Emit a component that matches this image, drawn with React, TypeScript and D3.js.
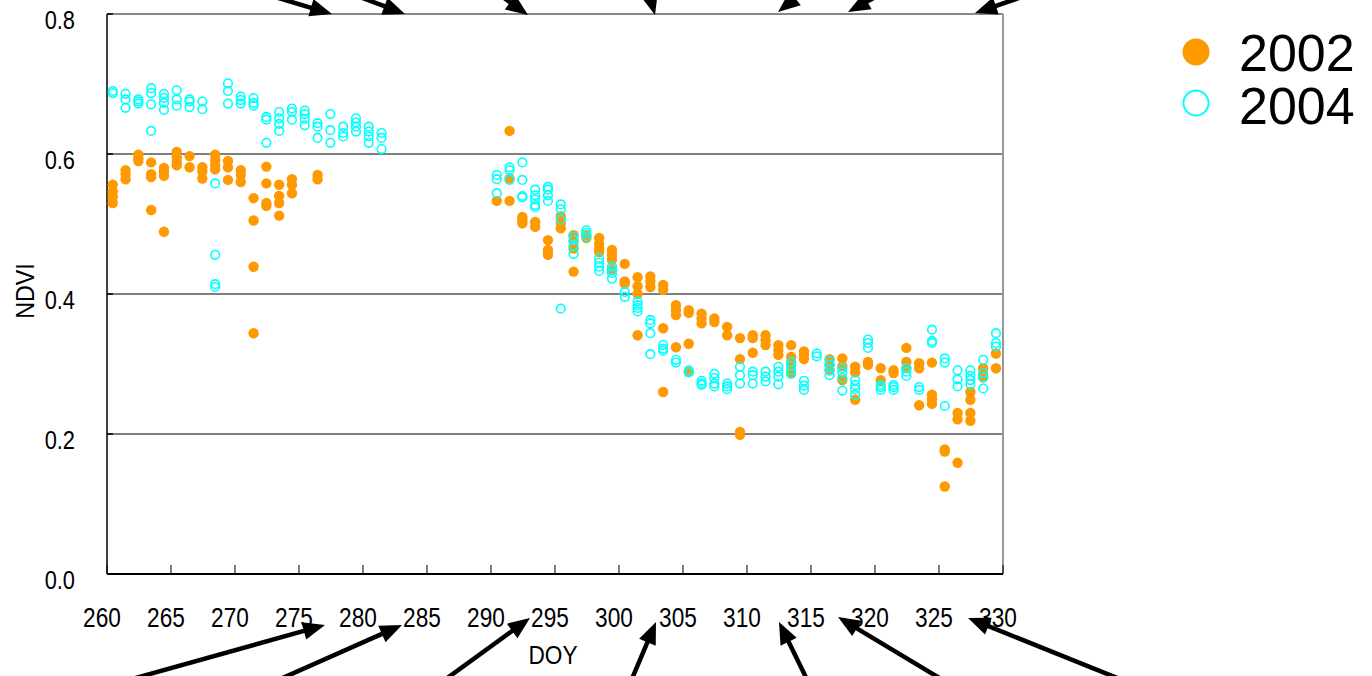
import React from "react";
import * as d3 from "d3";

const xTicks = [260, 265, 270, 275, 280, 285, 290, 295, 300, 305, 310, 315, 320, 325, 330];
const yTicks = [0.0, 0.2, 0.4, 0.6, 0.8];
const yTickLabels = ["0.0", "0.2", "0.4", "0.6", "0.8"];
const seriesNames = ["2002", "2004"];

const days2002 = [
  260.45, 261.45, 262.45, 263.45, 264.45, 265.45, 266.45, 267.45, 268.45, 269.45,
  270.45, 271.45, 272.45, 273.45, 274.45, 276.45,
  290.45, 291.45, 292.45, 293.45, 294.45, 295.45, 296.45, 297.45, 298.45, 299.45,
  300.45, 301.45, 302.45, 303.45, 304.45, 305.45, 306.45, 307.45, 308.45, 309.45,
  310.45, 311.45, 312.45, 313.45, 314.45, 316.45, 317.45, 318.45, 319.45,
  320.45, 321.45, 322.45, 323.45, 324.45, 325.45, 326.45, 327.45, 328.45, 329.45,
];
const ndvi2002 = [
  [0.556, 0.546, 0.539, 0.53], [0.577, 0.571, 0.564], [0.599, 0.594, 0.59],
  [0.588, 0.571, 0.567, 0.52], [0.58, 0.575, 0.569, 0.489], [0.603, 0.595, 0.589, 0.584],
  [0.597, 0.581], [0.581, 0.575, 0.565], [0.599, 0.591, 0.584, 0.578], [0.59, 0.581, 0.563],
  [0.577, 0.57, 0.56], [0.537, 0.505, 0.439, 0.344], [0.582, 0.558, 0.53, 0.526],
  [0.556, 0.54, 0.53, 0.512], [0.564, 0.556, 0.544], [0.57, 0.564],
  [0.533], [0.633, 0.565, 0.533], [0.51, 0.506, 0.501], [0.503, 0.496], [0.477, 0.463, 0.456],
  [0.511, 0.501, 0.494], [0.484, 0.475, 0.465, 0.432], [0.484, 0.48], [0.48, 0.472, 0.465, 0.46],
  [0.463, 0.456, 0.449, 0.435],
  [0.443, 0.418, 0.415], [0.424, 0.411, 0.4, 0.341], [0.425, 0.418, 0.41], [0.413, 0.406, 0.351, 0.26],
  [0.384, 0.377, 0.37, 0.324], [0.377, 0.373, 0.329, 0.289], [0.372, 0.365, 0.358], [0.365, 0.36],
  [0.353, 0.341], [0.337, 0.307, 0.203, 0.199],
  [0.341, 0.337, 0.316], [0.341, 0.334, 0.327], [0.327, 0.32, 0.313], [0.327, 0.31, 0.299, 0.287],
  [0.318, 0.313, 0.307], [0.307, 0.299, 0.291], [0.308, 0.297, 0.277], [0.296, 0.288, 0.249],
  [0.303, 0.299],
  [0.294, 0.277], [0.291, 0.287], [0.323, 0.303, 0.294], [0.301, 0.294, 0.241],
  [0.302, 0.256, 0.25, 0.243], [0.178, 0.175, 0.125], [0.23, 0.221, 0.159],
  [0.26, 0.249, 0.23, 0.219], [0.294, 0.284, 0.281], [0.315, 0.294],
];

const days2004 = [
  260.45, 261.45, 262.45, 263.45, 264.45, 265.45, 266.45, 267.45, 268.45, 269.45,
  270.45, 271.45, 272.45, 273.45, 274.45, 275.45, 276.45, 277.45, 278.45, 279.45,
  280.45, 281.45,
  290.45, 291.45, 292.45, 293.45, 294.45, 295.45, 296.45, 297.45, 298.45, 299.45,
  300.45, 301.45, 302.45, 303.45, 304.45, 305.45, 306.45, 307.45, 308.45, 309.45,
  310.45, 311.45, 312.45, 313.45, 314.45, 315.45, 316.45, 317.45, 318.45, 319.45,
  320.45, 321.45, 322.45, 323.45, 324.45, 325.45, 326.45, 327.45, 328.45, 329.45,
];
const ndvi2004 = [
  [0.69, 0.687], [0.686, 0.678, 0.666], [0.678, 0.675, 0.672], [0.694, 0.687, 0.671, 0.633],
  [0.686, 0.68, 0.673, 0.663], [0.691, 0.678, 0.669], [0.678, 0.675, 0.667], [0.675, 0.664],
  [0.558, 0.456, 0.414, 0.41], [0.701, 0.69, 0.672],
  [0.682, 0.677, 0.672], [0.68, 0.673, 0.669], [0.653, 0.649, 0.616], [0.66, 0.651, 0.643, 0.633],
  [0.665, 0.66, 0.649], [0.662, 0.657, 0.65, 0.641], [0.644, 0.639, 0.623], [0.657, 0.634, 0.616],
  [0.639, 0.63, 0.625], [0.651, 0.645, 0.639, 0.632],
  [0.639, 0.632, 0.625, 0.616], [0.63, 0.623, 0.607],
  [0.57, 0.564, 0.544], [0.581, 0.577, 0.563], [0.588, 0.563, 0.54, 0.538],
  [0.549, 0.541, 0.535, 0.527, 0.524], [0.553, 0.549, 0.541, 0.533], [0.528, 0.521, 0.506, 0.379],
  [0.482, 0.477, 0.468, 0.457], [0.491, 0.487, 0.482], [0.451, 0.445, 0.439, 0.433],
  [0.439, 0.434, 0.43, 0.422],
  [0.403, 0.396], [0.389, 0.384, 0.38, 0.375], [0.363, 0.358, 0.344, 0.314], [0.327, 0.322, 0.319],
  [0.306, 0.302], [0.291, 0.288], [0.276, 0.272, 0.27], [0.286, 0.28, 0.272, 0.268],
  [0.272, 0.268, 0.264], [0.296, 0.284, 0.272],
  [0.289, 0.284, 0.272], [0.289, 0.282, 0.275], [0.296, 0.289, 0.282, 0.271], [0.303, 0.297, 0.291, 0.286],
  [0.276, 0.269, 0.263], [0.315, 0.311], [0.305, 0.299, 0.291, 0.284], [0.294, 0.288, 0.28, 0.262],
  [0.277, 0.27, 0.264, 0.256], [0.335, 0.33, 0.323],
  [0.27, 0.267, 0.263], [0.27, 0.267, 0.263], [0.294, 0.289, 0.283], [0.267, 0.263],
  [0.349, 0.333, 0.33], [0.308, 0.302, 0.24], [0.291, 0.278, 0.268], [0.291, 0.283, 0.277, 0.271],
  [0.306, 0.287, 0.281, 0.265], [0.344, 0.33, 0.325],
];

// annotation arrows: [tailX, tailY, tipX, tipY]
const topArrows = [
  [151, -40, 332, 14], [262, -40, 405, 14], [451, -40, 528, 15], [640, -40, 655, 15],
  [843, -40, 778, 12], [943, -40, 848, 12], [1130, -40, 975, 13],
];
const bottomArrows = [
  [57, 700, 325, 625], [233, 700, 402, 625], [417, 700, 530, 618], [623, 700, 656, 622],
  [817, 700, 779, 622], [976, 700, 838, 617], [1172, 700, 968, 618],
];

const flatten = (days: number[], vals: number[][]) =>
  days.flatMap((d, i) => vals[i].map((v) => ({ doy: d, ndvi: v })));

const FONT = "'Liberation Sans', Arial, Helvetica, sans-serif";

function Arrow({ a }: { a: number[] }) {
  const [x1, y1, x2, y2] = a;
  const ang = Math.atan2(y2 - y1, x2 - x1);
  const len = 22;
  const half = 9;
  const bx = x2 - len * Math.cos(ang);
  const by = y2 - len * Math.sin(ang);
  const px = -Math.sin(ang) * half;
  const py = Math.cos(ang) * half;
  return (
    <g>
      <line x1={x1} y1={y1} x2={bx + 2 * Math.cos(ang)} y2={by + 2 * Math.sin(ang)} stroke="#000" strokeWidth={4.5} />
      <polygon points={`${x2},${y2} ${bx + px},${by + py} ${bx - px},${by - py}`} fill="#000" />
    </g>
  );
}

export default function App() {
  const W = 1372, H = 676;
  const left = 107, right = 1003, top = 14, bottom = 574;
  const x = d3.scaleLinear().domain([260, 330]).range([left, right]);
  const y = d3.scaleLinear().domain([0, 0.8]).range([bottom, top]);
  const pts2002 = flatten(days2002, ndvi2002);
  const pts2004 = flatten(days2004, ndvi2004);

  return (
    <svg width={W} height={H} style={{ position: "absolute", left: 0, top: 0, background: "#fff" }} fontFamily={FONT}>
      <rect x={0} y={0} width={W} height={H} fill="#fff" />
      {/* grid lines */}
      {yTicks.filter((t) => t > 0 && t < 0.8).map((t) => (
        <line key={t} x1={left} x2={right} y1={y(t)} y2={y(t)} stroke="#000" strokeWidth={1} />
      ))}
      {/* frame */}
      <line x1={left} x2={right} y1={top} y2={top} stroke="#888" strokeWidth={2} />
      <line x1={right} x2={right} y1={top} y2={bottom} stroke="#999" strokeWidth={2} />
      <line x1={left} x2={left} y1={top} y2={bottom} stroke="#000" strokeWidth={1.5} />
      <line x1={left} x2={right} y1={bottom} y2={bottom} stroke="#000" strokeWidth={2} />
      {/* y ticks */}
      {yTicks.map((t, i) => (
        <g key={t}>
          <line x1={left} x2={left + 6} y1={y(t)} y2={y(t)} stroke="#000" strokeWidth={1.5} />
          <text transform={`translate(75,${y(t) + 15}) scale(0.84,1)`} fontSize={26} textAnchor="end" fill="#000">{yTickLabels[i]}</text>
        </g>
      ))}
      {/* x ticks */}
      {xTicks.map((t) => (
        <g key={t}>
          <line x1={x(t)} x2={x(t)} y1={bottom} y2={bottom - 9} stroke="#000" strokeWidth={1} />
          <text transform={`translate(${x(t) - 5},627) scale(0.84,1)`} fontSize={27} textAnchor="middle" fill="#000">{t}</text>
        </g>
      ))}
      <text transform="translate(553,664) scale(0.87,1)" fontSize={26} textAnchor="middle" fill="#000">DOY</text>
      <text transform="translate(34,291) rotate(-90) scale(0.93,1)" fontSize={25} textAnchor="middle" fill="#000">NDVI</text>
      {/* series */}
      <g>
        {pts2002.map((p, i) => (
          <circle key={"a" + i} cx={x(p.doy)} cy={y(p.ndvi)} r={5.2} fill="#FF9900" />
        ))}
      </g>
      <g>
        {pts2004.map((p, i) => (
          <circle key={"b" + i} cx={x(p.doy)} cy={y(p.ndvi)} r={4.3} fill="none" stroke="#00FFFF" strokeWidth={1.6} />
        ))}
      </g>
      {/* legend */}
      <circle cx={1196} cy={52} r={13.5} fill="#FF9900" />
      <text x={1239} y={71} fontSize={52} fill="#000">{seriesNames[0]}</text>
      <circle cx={1196} cy={103} r={12.5} fill="none" stroke="#00FFFF" strokeWidth={2} />
      <text x={1239} y={124} fontSize={52} fill="#000">{seriesNames[1]}</text>
      {/* arrows */}
      {topArrows.map((a, i) => <Arrow key={"t" + i} a={a} />)}
      {bottomArrows.map((a, i) => <Arrow key={"b" + i} a={a} />)}
    </svg>
  );
}
